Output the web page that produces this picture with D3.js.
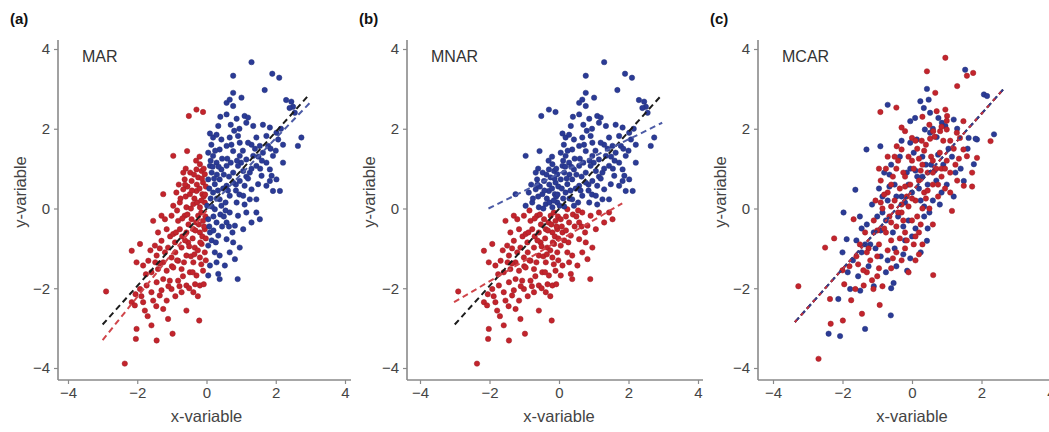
<!DOCTYPE html>
<html>
<head>
<meta charset="utf-8">
<script src="https://cdn.jsdelivr.net/npm/d3@7"></script>
<style>
  body { margin: 0; background: #fff; }
  svg { display: block; }
  text { font-family: "Liberation Sans", Arial, sans-serif; }
</style>
</head>
<body>
<svg width="1049" height="432"></svg>
<script>
// points shared by panels (a) and (b)
const pointsAB = [
  [-2.90,-2.08],[-2.36,-3.89],[-2.16,-1.06],[-2.16,-2.35],[-2.07,-2.43],[-2.02,-3.02],[-2.04,-3.27],[-2.02,-1.35],[-2.05,-2.15],
  [-1.92,-0.89],[-1.83,-2.35],[-1.78,-2.56],[-1.92,-2.02],[-1.73,-1.93],[-1.83,-1.43],[-1.68,-1.31],[-1.59,-2.10],[-1.54,-2.31],
  [-1.59,-1.60],[-1.59,-2.93],[-1.54,-0.31],[-1.62,-1.05],[-1.75,-1.65],[-1.88,-2.20],[-1.70,-2.70],
  [-1.44,-3.31],[-1.35,-2.18],[-1.25,-2.52],[-1.15,-2.31],[-1.11,-2.77],[-1.01,-2.02],[-1.44,-1.85],[-1.25,-1.77],[-1.06,-1.81],
  [-1.40,-1.52],[-1.15,-1.56],[-1.44,-1.18],[-1.25,-1.35],[-1.01,-1.23],[-1.49,-0.93],[-1.30,-0.81],[-1.11,-0.98],[-1.40,-0.60],
  [-1.15,-0.52],[-1.30,-0.18],[-1.20,-0.27],[-1.01,-0.18],[-1.25,0.36],[-1.35,-1.00],[-1.20,-1.10],[-1.05,-0.70],[-1.45,-2.45],
  [-1.30,-2.05],[-1.10,-1.95],[-1.00,-1.45],[-1.35,-1.38],[-1.48,-1.35],[-0.98,-3.14],
  [-0.96,1.32],[-0.96,-1.48],[-0.91,-0.85],[-0.96,-0.64],[-0.96,0.07],[-0.87,0.40],[-0.82,-1.81],[-0.82,-1.31],[-0.82,-0.31],
  [-0.77,-0.52],[-0.77,0.15],[-0.72,-2.10],[-0.72,-1.52],[-0.72,-0.98],[-0.67,0.90],[-0.67,0.48],[-0.63,-0.18],[-0.63,0.73],
  [-0.58,-2.56],[-0.58,-1.93],[-0.58,-1.18],[-0.58,-0.60],[-0.58,0.03],[-0.56,1.44],[-0.53,-0.85],[-0.51,2.32],[-0.90,-1.10],
  [-0.85,-0.05],[-0.75,0.25],[-0.70,-0.25],[-0.65,-1.35],[-0.62,-0.80],[-0.55,0.55],[-0.52,-0.40],[-0.88,-0.60],[-0.80,0.60],
  [-0.60,0.30],[-0.68,-1.70],[-0.90,-2.20],[-0.60,1.00],[-0.78,-1.95],
  [-0.48,-1.60],[-0.48,0.36],[-0.43,-0.27],[-0.43,0.69],[-0.38,-2.10],[-0.38,-1.35],[-0.38,-0.52],[-0.38,0.11],[-0.34,-0.98],
  [-0.29,2.48],[-0.29,-1.68],[-0.29,0.44],[-0.29,0.98],[-0.24,-0.18],[-0.24,0.78],[-0.21,-2.81],[-0.19,-1.93],[-0.19,-1.23],
  [-0.19,-0.60],[-0.19,0.03],[-0.19,1.11],[-0.14,-0.89],[-0.14,0.94],[-0.12,0.36],[-0.10,2.42],[-0.10,-1.56],[-0.10,-0.31],
  [-0.10,0.65],[-0.05,-0.52],[-0.05,0.15],[-0.05,0.86],[-0.45,0.00],[-0.40,-0.75],[-0.35,0.25],[-0.30,-0.35],[-0.28,0.60],
  [-0.25,-1.05],[-0.22,-0.40],[-0.20,0.50],[-0.15,-0.10],[-0.12,-0.70],[-0.08,0.30],[-0.05,-1.10],[-0.02,0.55],[-0.03,-0.20],
  [-0.45,-1.20],[-0.33,-1.90],[-0.15,-1.40],[-0.08,1.00],[-0.47,0.90],[-0.36,0.85],[-0.02,-0.75],[-0.02,-1.30],
  [-0.55,-0.15],[-0.42,0.45],[-0.32,-0.55],[-0.27,0.15],[-0.18,-0.85],[-0.13,0.75],[-0.07,-0.45],[-0.04,0.35],[-0.50,-0.95],
  [-0.35,-1.15],[-0.62,0.60],[-0.20,1.30],[-0.40,-1.60],[-0.70,-0.70],[-0.85,-1.30],[-0.25,-2.20],[-0.50,-2.00],[-0.15,0.20],
  [-0.08,-1.90],[-0.30,1.20],
  [0.05,1.40],[0.10,1.88],[0.10,1.07],[0.05,0.73],[0.19,1.78],[0.19,1.32],[0.29,1.85],[0.29,1.15],[0.24,0.61],[0.19,0.40],
  [0.34,2.07],[0.38,1.48],[0.43,1.73],[0.43,0.98],[0.38,0.73],[0.38,0.23],[0.02,0.07],[0.24,-0.02],[0.43,0.07],[0.05,-0.27],
  [0.29,-0.35],[0.10,-0.60],[0.34,-0.68],[0.05,-0.93],[0.24,-1.10],[0.38,-1.18],[0.10,-1.43],[0.29,-1.35],[0.05,-1.68],
  [0.34,-1.64],[0.38,-1.77],[0.15,0.90],[0.12,0.25],[0.20,-0.20],[0.08,-0.45],[0.15,-0.80],[0.30,0.85],[0.33,0.45],[0.45,1.25],
  [0.40,-0.15],[0.45,-0.45],[0.18,1.05],[0.08,0.50],[0.27,-0.85],[0.48,0.50],[0.14,1.60],
  [0.12,1.20],[0.22,0.75],[0.35,1.05],[0.50,0.85],[0.62,0.45],[0.72,1.60],[0.85,0.60],[0.95,0.35],[0.15,0.05],[0.30,0.25],
  [0.50,-0.20],[0.65,-0.45],[0.20,-0.55],[1.00,1.15],[1.15,0.80],[1.30,1.60],[0.40,2.30],[0.25,1.45],[0.70,2.10],[1.50,1.30],
  [0.58,2.65],[0.67,2.73],[0.77,2.57],[0.77,3.33],[0.77,2.90],[0.58,2.36],[0.87,2.25],[0.67,1.78],[0.91,1.82],[0.96,1.65],
  [0.58,1.57],[0.77,1.44],[0.96,1.32],[0.58,1.07],[0.77,0.90],[0.91,1.07],[0.58,0.57],[0.77,0.65],[0.96,0.69],[0.67,0.32],
  [0.87,0.15],[0.67,-0.10],[0.91,-0.18],[0.58,-0.35],[0.82,-0.43],[0.58,-0.77],[0.77,-0.85],[0.96,-0.98],[0.67,-1.10],
  [0.82,-1.27],[0.53,-1.43],[0.90,-1.77],[0.60,1.25],[0.70,1.15],[0.85,0.45],[0.55,0.15],[0.65,0.80],[0.80,1.95],[0.95,2.00],
  [0.55,-0.05],[0.75,-0.60],[0.88,1.20],
  [1.01,2.78],[1.30,3.67],[1.10,2.32],[1.15,2.15],[1.20,2.28],[1.35,2.07],[1.20,1.65],[1.44,1.78],[1.15,1.23],[1.35,1.32],
  [1.06,0.94],[1.25,0.90],[1.44,1.07],[1.10,0.57],[1.30,0.48],[1.49,0.61],[1.06,0.32],[1.25,0.23],[1.44,0.23],[1.15,-0.10],
  [1.44,-0.10],[1.06,-0.52],[1.05,1.45],[1.30,1.00],[1.20,0.75],[1.40,1.50],[1.10,0.10],[1.30,-0.35],
  [1.68,2.97],[1.90,3.38],[1.63,2.10],[1.83,2.03],[1.54,1.57],[1.73,1.82],[1.78,1.57],[1.63,1.40],[1.73,1.15],[1.92,1.32],
  [1.59,0.82],[1.83,0.98],[1.88,0.82],[1.83,0.69],[1.73,0.57],[1.92,0.44],[1.54,-0.27],[1.60,1.20],[1.85,1.50],[1.55,1.00],
  [2.10,3.28],[2.30,2.72],[2.45,2.68],[2.50,2.55],[2.40,2.52],[2.55,2.40],[2.02,1.90],[2.07,1.73],[2.21,1.60],[2.74,1.78],
  [2.64,1.57],[2.21,1.15],[2.02,0.73],[2.12,0.44],[2.00,1.45],[2.15,2.00]
];

// panel (c): observed (blue) and missing (red) points
const redC = [
  [0.96,3.78],[0.43,3.44],[1.58,3.33],[1.76,3.40],[1.30,3.07],[0.67,2.90],[-0.45,2.53],[-0.91,2.42],[0.71,2.44],[0.96,2.48],
  [1.01,2.32],[1.48,2.19],[-0.30,2.03],[-0.20,1.94],[0.61,1.94],[0.81,1.94],[1.00,1.98],[1.29,1.90],[1.38,1.77],[0.00,1.77],
  [0.28,1.70],[0.52,1.75],[-0.30,1.48],[-0.44,1.56],[1.87,1.27],[1.48,1.48],[1.58,1.31],[2.26,1.69],[1.73,0.90],[1.73,0.55],
  [1.49,0.57],[1.15,-0.06],[0.61,-1.67],
  [-3.27,-1.95],[-2.50,-0.98],[-2.24,-0.75],[-2.36,-2.27],[-2.34,-2.89],[-1.99,-2.81],[-2.69,-3.77],[-1.44,-2.64],[-0.93,-2.42],
  [-1.68,-0.27],[-1.63,-2.02],[-1.39,-1.93],[-1.11,-2.02],[-2.00,-1.55],[-1.80,-1.45],[-1.95,-1.90],[-1.55,-1.40],[-1.75,-2.30],
  [-1.30,-1.60],[-1.00,-1.70],[-0.85,-1.95],[-0.60,-1.50],[-0.30,-1.30],[-0.10,-1.60],[0.10,-1.30],[0.30,-0.90],[0.20,-1.15],
  [-0.45,-1.10],[-0.20,-1.00],
  [-1.50,-0.90],[-1.35,-0.60],[-1.20,-1.30],[-1.10,-0.30],[-1.05,0.20],[-0.95,-0.90],[-0.90,0.70],[-0.85,0.00],[-0.80,-0.50],
  [-0.75,1.00],[-0.70,0.40],[-0.65,-0.20],[-0.60,-0.80],[-0.55,0.80],[-0.50,0.20],[-0.45,-0.45],[-0.40,1.20],[-0.35,0.50],
  [-0.30,-0.10],[-0.25,0.90],[-0.20,-0.60],[-0.15,0.30],[-0.10,1.30],[-0.05,0.60],[0.00,-0.30],[0.05,1.00],[0.10,0.20],
  [0.15,1.50],[0.20,0.70],[0.25,-0.40],[0.30,1.10],[0.35,0.40],[0.40,1.60],[0.45,0.90],[0.50,0.00],[0.55,1.30],[0.60,0.60],
  [0.65,1.80],[0.70,1.00],[0.75,0.30],[0.80,1.40],[0.85,0.80],[0.90,1.70],[0.95,0.50],[1.00,1.20],[1.10,0.90],[1.20,1.50],
  [1.30,0.70],[-1.25,-1.00],[-1.00,-0.55],[-0.80,0.35],[-0.60,0.05],[-0.35,-0.75],[-0.10,0.05],[0.10,-0.70],[0.30,0.00],
  [-0.55,-1.25],[-0.95,-1.50],[-1.15,-1.80],[0.00,1.20],[0.20,1.25],[-0.20,0.55],[0.40,0.25],[0.60,-0.40],[-0.70,-1.05],
  [-1.40,-1.55],[0.85,1.00],[0.05,-0.90],[-0.45,1.00],[-0.70,1.30],[1.10,1.70],[1.35,1.25],[0.50,2.10],[-0.60,-0.35],[-0.25,-0.30],
  [-0.90,0.15],[-0.60,0.60],[-0.40,-0.10],[-0.20,0.80],[0.00,0.25],[0.15,-0.20],[0.25,0.95],[0.45,0.45],[0.60,1.20],[0.75,0.60],
  [0.95,1.00],[1.10,0.40],[-1.30,-1.10],[-1.00,-1.20],[-0.75,-0.60],[-0.50,1.30],[-0.30,0.10],[0.10,1.70],[0.35,1.45],[0.85,2.05],
  [1.25,1.10],[-0.15,-0.80],[0.20,-0.60],[-1.60,-1.20],[-0.95,1.00],[0.60,0.90],[1.00,2.20],[0.30,2.30]
];

const blueC = [
  [1.53,3.48],[0.43,3.00],[0.48,2.73],[0.34,2.52],[0.24,2.69],[-0.70,2.60],[0.52,2.40],[0.76,2.27],[0.86,2.15],[0.96,2.07],
  [1.20,2.23],[-0.05,2.19],[0.09,2.27],[0.37,1.98],[0.52,1.90],[1.63,1.77],[1.87,1.73],[0.14,1.73],[-0.05,1.65],[0.71,1.79],
  [-1.31,1.48],[-0.91,1.56],[2.07,2.86],[2.16,2.82],[2.36,1.86],[1.83,1.75],[1.78,1.11],[1.49,0.69],[-1.97,-0.10],[-1.63,0.47],
  [-1.88,-0.77],[-1.78,-2.02],[-1.49,-2.06],[-2.12,-2.27],[-2.40,-3.14],[-2.07,-3.20],[-1.35,-3.02],[-0.61,-2.68],[-0.53,-1.87],
  [-0.14,-1.56],[0.43,-0.81],
  [-1.60,-0.80],[-1.45,-1.10],[-1.30,-0.40],[-1.20,-0.90],[-1.15,0.10],[-1.00,-0.20],[-0.95,0.50],[-0.90,-1.20],[-0.80,0.90],
  [-0.75,-0.30],[-0.70,0.20],[-0.60,1.10],[-0.55,-0.60],[-0.50,0.60],[-0.40,-0.20],[-0.35,1.30],[-0.30,0.30],[-0.20,-0.80],
  [-0.15,0.90],[-0.10,-0.30],[0.00,0.40],[0.05,1.40],[0.10,-0.50],[0.15,0.80],[0.25,0.20],[0.30,1.30],[0.35,-0.20],[0.45,0.60],
  [0.55,1.10],[0.60,0.20],[0.70,0.70],[0.80,0.10],[0.90,1.10],[1.00,0.60],[1.15,1.30],[1.25,0.90],[-1.70,-1.30],[-1.55,-1.70],
  [-1.25,-1.45],[-1.05,-1.00],[-0.75,-1.60],[-0.45,-1.45],[-0.25,-1.15],[-0.05,-1.25],[0.25,-1.10],[-1.45,-0.50],[-2.00,-1.10],
  [-1.85,-1.60],[-0.85,0.30],[-0.20,0.15],[0.30,0.80],[0.75,1.35],[-0.65,0.55],[0.10,0.95],[0.45,-0.50],[1.40,1.00],[1.20,0.30],
  [-1.10,-1.95],[-0.60,-2.00],
  [-1.35,-0.90],[-1.10,-0.60],[-0.85,-0.10],[-0.65,0.85],[-0.45,0.30],[-0.25,-0.45],[-0.05,1.00],[0.20,0.50],[0.40,1.10],
  [0.50,-0.10],[0.65,0.95],[0.85,0.40],[1.05,1.50],[-0.50,-1.00],[-0.90,-0.55],[0.00,-0.70],[-0.30,1.70],[0.60,2.00],[1.30,2.00],
  [-1.50,-0.20],[-0.10,0.60],[0.35,0.05],[-0.70,-1.30],[1.60,1.50]
];

// fitted regression lines, end points
const fitAll = [[-3.00, -2.91], [2.97, 2.86]];
const fitMarRed = [[-3.00, -3.30], [0.05, 0.00]];
const fitMarBlue = [[0.05, 0.00], [3.03, 2.69]];
const fitMnarRed = [[-3.02, -2.35], [1.82, 0.13]];
const fitMnarBlue = [[-2.03, 0.00], [2.97, 2.15]];
const fitMcar = [[-3.37, -2.85], [2.64, 3.00]];

const ticks = [-4, -2, 0, 2, 4];
const panelLabels = ['(a)', '(b)', '(c)'];
const mechanisms = ['MAR', 'MNAR', 'MCAR'];

const RED = '#c3242c';
const BLUE = '#2b3b96';

const svg = d3.select('svg');

// each line: [points, colour, dash pattern, dash offset]
const panels = [
  {left: 58, right: 351, xMin: 68, xMax: 345,
   red: pointsAB.filter(d => d[0] < 0), blue: pointsAB.filter(d => d[0] >= 0),
   lines: [[fitAll, '#1c1c1c', '6,4', 0], [fitMarRed, '#d0454a', '6,4', 0], [fitMarBlue, '#4c5ba6', '6,4', 0]]},
  {left: 407, right: 703, xMin: 420, xMax: 698,
   red: pointsAB.filter(d => d[1] < 0), blue: pointsAB.filter(d => d[1] >= 0),
   lines: [[fitAll, '#1c1c1c', '6,4', 0], [fitMnarRed, '#d0454a', '6,4', 0], [fitMnarBlue, '#4c5ba6', '6,4', 0]]},
  {left: 758, right: 1060, xMin: 773, xMax: 1051,
   red: redC, blue: blueC,
   lines: [[fitMcar, '#1c1c1c', '6,3', 0], [fitMcar, '#363c8e', '6,3', 0], [fitMcar, '#c8303a', '3,6', 0]]}
];

const plotTop = 40, plotBottom = 380;

panels.forEach((p, i) => {
  const x = d3.scaleLinear().domain([-4, 4]).range([p.xMin, p.xMax]);
  const y = d3.scaleLinear().domain([-4, 4]).range([368, 49]);
  const g = svg.append('g');

  // axis lines
  g.append('line').attr('x1', p.left).attr('x2', p.left).attr('y1', plotTop).attr('y2', plotBottom)
    .attr('stroke', '#8a8a8a').attr('stroke-width', 1.6);
  g.append('line').attr('x1', p.left).attr('x2', p.right).attr('y1', plotBottom).attr('y2', plotBottom)
    .attr('stroke', '#8a8a8a').attr('stroke-width', 1.6);

  const fmt = d => d < 0 ? '\u2212' + Math.abs(d) : d;
  const xAxis = g.append('g')
    .attr('transform', `translate(0, ${plotBottom})`)
    .call(d3.axisBottom(x).tickValues(ticks).tickSize(4).tickSizeOuter(0).tickPadding(3).tickFormat(fmt));
  const yAxis = g.append('g')
    .attr('transform', `translate(${p.left}, 0)`)
    .call(d3.axisLeft(y).tickValues(ticks).tickSize(4).tickSizeOuter(0).tickPadding(4).tickFormat(fmt));
  [xAxis, yAxis].forEach(a => {
    a.select('.domain').remove();
    a.selectAll('.tick line').attr('stroke', '#8a8a8a').attr('stroke-width', 1.2);
    a.selectAll('.tick text').attr('fill', '#444').style('font-size', '15px')
      .style('font-family', '"Liberation Sans", Arial, sans-serif');
  });

  // points
  const dots = (data, color) => g.append('g').selectAll('circle').data(data).join('circle')
    .attr('cx', d => x(d[0])).attr('cy', d => y(d[1])).attr('r', 2.7)
    .attr('fill', color).attr('stroke', d3.color(color).darker(0.6)).attr('stroke-width', 0.5);
  if (i === 2) {
    dots(p.blue, BLUE);
    dots(p.red, RED);
  } else {
    dots(p.red, RED);
    dots(p.blue, BLUE);
  }

  // fit lines
  const line = d3.line().x(d => x(d[0])).y(d => y(d[1]));
  p.lines.forEach(([pts, color, dash, offset]) => {
    g.append('path').attr('d', line(pts)).attr('fill', 'none')
      .attr('stroke', color).attr('stroke-width', 2)
      .attr('stroke-dasharray', dash).attr('stroke-dashoffset', offset);
  });

  // labels
  g.append('text').attr('x', p.left - 48).attr('y', 24).text(panelLabels[i])
    .style('font-size', '15px').style('font-weight', 'bold').attr('fill', '#111');
  g.append('text').attr('x', p.left + 24).attr('y', 62).text(mechanisms[i])
    .style('font-size', '16px').attr('fill', '#333');
  g.append('text').attr('x', x(0)).attr('y', 422).attr('text-anchor', 'middle').text('x-variable')
    .style('font-size', '16.5px').attr('fill', '#444');
  g.append('text').attr('transform', `translate(${p.left - 32}, 192) rotate(-90)`)
    .attr('text-anchor', 'middle').text('y-variable')
    .style('font-size', '16.5px').attr('fill', '#444');
});
</script>
</body>
</html>
